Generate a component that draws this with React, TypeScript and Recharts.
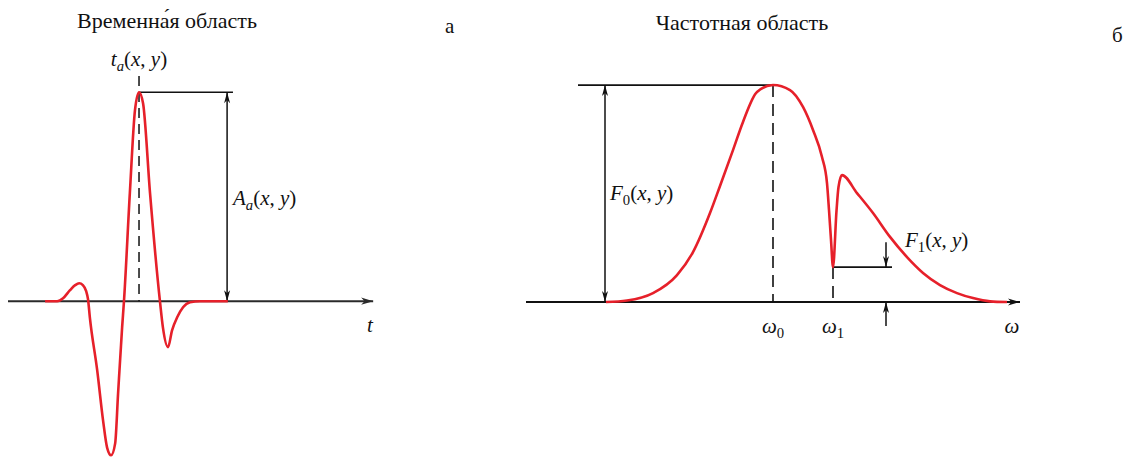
import React from 'react';
import { ComposedChart, Line, XAxis, YAxis, ReferenceLine, ReferenceDot } from 'recharts';

// ---------- time-domain waveform (t in arbitrary units, amplitude normalised to A_a = 1)
const timeT = [1.01, 1.34, 1.5, 1.69, 1.83, 1.94, 2.04, 2.13, 2.18, 2.23, 2.43, 2.59, 2.7, 2.81, 2.92, 3.0, 3.11, 3.16, 3.32, 3.46, 3.57, 3.68, 3.87, 4.14, 4.22, 4.36, 4.47, 4.61, 4.77, 4.96, 5.23, 5.99];
const timeA = [0, 0, 0.014, 0.053, 0.077, 0.086, 0.077, 0.048, 0.01, -0.077, -0.33, -0.57, -0.7, -0.737, -0.68, -0.44, -0.124, 0, 0.517, 0.914, 1, 0.947, 0.517, 0, -0.124, -0.22, -0.139, -0.077, -0.029, -0.005, 0, 0];

// ---------- frequency-domain spectrum (ω in arbitrary units, magnitude normalised to F_0 = 1)
const freqW = [1.6, 2.02, 2.54, 3.02, 3.34, 3.68, 3.88, 4.14, 4.34, 4.62, 4.94, 5.28, 5.54, 5.74, 5.92, 6.02, 6.06, 6.1, 6.14, 6.21, 6.25, 6.32, 6.62, 6.94, 7.28, 7.62, 7.94, 8.28, 8.62, 8.94, 9.28, 9.62];
const freqF = [0, 0.007, 0.041, 0.124, 0.23, 0.41, 0.535, 0.7, 0.83, 0.968, 1, 0.977, 0.899, 0.793, 0.668, 0.548, 0.424, 0.286, 0.161, 0.42, 0.53, 0.585, 0.502, 0.41, 0.3, 0.207, 0.134, 0.078, 0.041, 0.018, 0.003, 0];

// characteristic points
const tPeak = 3.57; // t_a(x, y)
const aPeak = 1; // A_a(x, y)
const w0 = 4.94; // ω0
const w1 = 6.14; // ω1
const f0 = 1; // F0(x, y)
const f1 = 0.161; // F1(x, y)

// panel titles
const titles = ['Временна́я область', 'Частотная область'];
const panelTags = ['а', 'б'];

const timeData = timeT.map((t, i) => ({ t, a: timeA[i] }));
const freqData = freqW.map((w, i) => ({ w, f: freqF[i] }));

const SERIF = '"Liberation Serif", "Liberation Sans", Arial, sans-serif';
const RED = '#e6202a';
const INK = '#111';

type Heads = { start?: boolean; end?: boolean; len?: number; half?: number; color?: string; width?: number; dash?: string };

const arrowShape = (h: Heads) => (p: any) => {
  const x1 = Number(p.x1), y1 = Number(p.y1), x2 = Number(p.x2), y2 = Number(p.y2);
  const len = h.len ?? 10;
  const half = h.half ?? 3;
  const color = h.color ?? INK;
  const dx = x2 - x1, dy = y2 - y1;
  const d = Math.hypot(dx, dy) || 1;
  const ux = dx / d, uy = dy / d;
  const head = (tx: number, ty: number, vx: number, vy: number) => {
    const bx = tx - vx * len, by = ty - vy * len;
    const nx = -vy * half, ny = vx * half;
    const mx = tx - vx * len * 0.72, my = ty - vy * len * 0.72;
    return `M${tx},${ty} L${bx + nx},${by + ny} L${mx},${my} L${bx - nx},${by - ny} Z`;
  };
  return (
    <g>
      <line x1={x1} y1={y1} x2={x2} y2={y2} stroke={color} strokeWidth={h.width ?? 1.5} strokeDasharray={h.dash} />
      {h.end && <path d={head(x2, y2, ux, uy)} fill={color} />}
      {h.start && <path d={head(x1, y1, -ux, -uy)} fill={color} />}
    </g>
  );
};

type Piece = [string, 'i' | 'r' | 'si' | 'sr'];

const mathShape = (pieces: Piece[], anchor: 'start' | 'middle' | 'end' = 'start', size = 21) => (p: any) => {
  const out: React.ReactNode[] = [];
  let sub = false;
  pieces.forEach(([s, k], i) => {
    const isSub = k[0] === 's';
    let dy: number | undefined;
    if (isSub && !sub) dy = 5;
    if (!isSub && sub) dy = -5;
    sub = isSub;
    out.push(
      <tspan key={i} dy={dy} fontStyle={k.endsWith('i') ? 'italic' : 'normal'} fontSize={isSub ? size * 0.7 : size}>
        {s}
      </tspan>
    );
  });
  return (
    <text x={p.cx} y={p.cy} textAnchor={anchor} fontFamily={SERIF} fontSize={size} fill={INK}>
      {out}
    </text>
  );
};

const xy: Piece[] = [['(', 'r'], ['x', 'i'], [', ', 'r'], ['y', 'i'], [')', 'r']];

function TimePanel() {
  return (
    <ComposedChart width={400} height={458} data={timeData} margin={{ top: 0, right: 25, bottom: 0, left: 8 }}>
      <XAxis type="number" dataKey="t" domain={[0, 10]} hide />
      <YAxis type="number" domain={[-0.75, 1.441]} hide />
      {/* t axis */}
      <ReferenceLine segment={[{ x: 0, y: 0 }, { x: 9.95, y: 0 }]} shape={arrowShape({ end: true, len: 12, half: 3.6, color: '#2a2a2a', width: 2 })} />
      {/* peak time marker */}
      <ReferenceLine segment={[{ x: tPeak, y: 1.078 }, { x: tPeak, y: 0 }]} shape={arrowShape({ dash: '10 6', width: 1.5 })} />
      {/* amplitude level */}
      <ReferenceLine segment={[{ x: tPeak, y: aPeak }, { x: 6.13, y: aPeak }]} shape={arrowShape({ width: 1.5 })} />
      <ReferenceLine segment={[{ x: 5.97, y: 0 }, { x: 5.97, y: aPeak }]} shape={arrowShape({ start: true, end: true, len: 11, half: 3 })} />
      <Line type="monotone" dataKey="a" stroke={RED} strokeWidth={2.6} dot={false} activeDot={false} isAnimationActive={false} />
      <ReferenceDot x={tPeak} y={1.126} r={0} shape={mathShape([['t', 'i'], ['a', 'si'], ...xy], 'middle')} />
      <ReferenceDot x={6.13} y={0.46} r={0} shape={mathShape([['A', 'i'], ['a', 'si'], ...xy])} />
      <ReferenceDot x={9.78} y={-0.147} r={0} shape={mathShape([['t', 'i']])} />
    </ComposedChart>
  );
}

function FreqPanel() {
  return (
    <ComposedChart width={630} height={458} data={freqData} margin={{ top: 0, right: 104, bottom: 0, left: 26 }}>
      <XAxis type="number" dataKey="w" domain={[0, 10]} hide />
      <YAxis type="number" domain={[-0.719, 1.392]} hide />
      {/* ω axis */}
      <ReferenceLine segment={[{ x: 0, y: 0 }, { x: 9.88, y: 0 }]} shape={arrowShape({ end: true, len: 12, half: 3.6, width: 1.8 })} />
      {/* F0 level */}
      <ReferenceLine segment={[{ x: 1.04, y: f0 }, { x: w0, y: f0 }]} shape={arrowShape({ width: 1.8 })} />
      <ReferenceLine segment={[{ x: 1.58, y: 0 }, { x: 1.58, y: f0 }]} shape={arrowShape({ start: true, end: true, len: 11, half: 3 })} />
      <ReferenceLine segment={[{ x: w0, y: f0 }, { x: w0, y: 0 }]} shape={arrowShape({ dash: '12 7', width: 1.6 })} />
      {/* F1 level */}
      <ReferenceLine segment={[{ x: w1, y: f1 }, { x: w1, y: 0 }]} shape={arrowShape({ dash: '12 7', width: 1.6 })} />
      <ReferenceLine segment={[{ x: w1, y: f1 }, { x: 7.32, y: f1 }]} shape={arrowShape({ width: 1.6 })} />
      <ReferenceLine segment={[{ x: 7.2, y: 0.276 }, { x: 7.2, y: f1 }]} shape={arrowShape({ end: true, len: 11, half: 3 })} />
      <ReferenceLine segment={[{ x: 7.2, y: -0.111 }, { x: 7.2, y: 0 }]} shape={arrowShape({ end: true, len: 11, half: 3 })} />
      <Line type="monotone" dataKey="f" stroke={RED} strokeWidth={2.6} dot={false} activeDot={false} isAnimationActive={false} />
      <ReferenceDot x={1.68} y={0.47} r={0} shape={mathShape([['F', 'i'], ['0', 'sr'], ...xy])} />
      <ReferenceDot x={7.58} y={0.253} r={0} shape={mathShape([['F', 'i'], ['1', 'sr'], ...xy])} />
      <ReferenceDot x={w0} y={-0.143} r={0} shape={mathShape([['ω', 'i'], ['0', 'sr']], 'middle')} />
      <ReferenceDot x={w1} y={-0.143} r={0} shape={mathShape([['ω', 'i'], ['1', 'sr']], 'middle')} />
      <ReferenceDot x={9.72} y={-0.143} r={0} shape={mathShape([['ω', 'i']], 'middle')} />
    </ComposedChart>
  );
}

const textStyle: React.CSSProperties = {
  position: 'absolute',
  fontFamily: SERIF,
  fontSize: 21,
  lineHeight: '21px',
  color: INK,
  whiteSpace: 'nowrap',
};

export default function App() {
  return (
    <div style={{ position: 'absolute', left: 0, top: 0, width: 1130, height: 458, background: '#fff', overflow: 'hidden' }}>
      <div style={{ position: 'absolute', left: 0, top: 0 }}>
        <TimePanel />
      </div>
      <div style={{ position: 'absolute', left: 500, top: 0 }}>
        <FreqPanel />
      </div>
      <div style={{ ...textStyle, fontSize: 22, lineHeight: '22px', left: 17, top: 10, width: 300, textAlign: 'center' }}>{titles[0]}</div>
      <div style={{ ...textStyle, fontSize: 22, lineHeight: '22px', left: 592, top: 12, width: 300, textAlign: 'center' }}>{titles[1]}</div>
      <div style={{ ...textStyle, left: 445, top: 16 }}>{panelTags[0]}</div>
      <div style={{ ...textStyle, left: 1112, top: 25 }}>{panelTags[1]}</div>
    </div>
  );
}
